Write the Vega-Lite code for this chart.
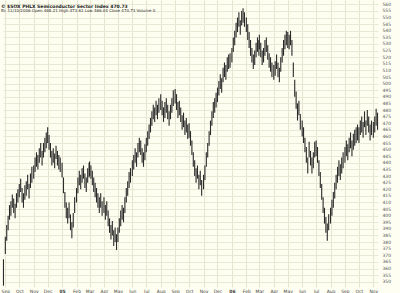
{
"$schema": "https://vega.github.io/schema/vega-lite/v6.json",
"width": 375, "height": 287,
"autosize": {"type": "none"},
"padding": {"left": 3, "top": 0, "right": 22, "bottom": 6},
"background": "#FEFEF2",
"config": {"view": {"fill": "#FEFEF0", "stroke": null}, "font": "DejaVu Sans"},
"title": {"text": "© $SOX PHLX Semiconductor Sector Index   470.73", "subtitle": "Bi: 11/10/2006  Open 468.21  High 473.61  Low 466.04  Close 470.73  Volume 0", "anchor": "start", "frame": "group", "orient": "top", "offset": -13, "dx": -2, "fontSize": 4.5, "fontWeight": "bold", "color": "#222", "subtitleFontSize": 4, "subtitleColor": "#333", "subtitlePadding": 1},
"data": {"values": [
{"d":"2004-08-28","h":367,"l":347},
{"d":"2004-09-01","h":384,"l":371},{"d":"2004-09-04","h":393,"l":381},{"d":"2004-09-07","h":400,"l":389},{"d":"2004-09-10","h":408,"l":397},{"d":"2004-09-13","h":411,"l":400},{"d":"2004-09-16","h":416,"l":406},{"d":"2004-09-19","h":413,"l":402},{"d":"2004-09-22","h":409,"l":398},{"d":"2004-09-25","h":417,"l":406},{"d":"2004-09-28","h":420,"l":410},
{"d":"2004-10-01","h":424,"l":414},{"d":"2004-10-04","h":428,"l":418},{"d":"2004-10-07","h":421,"l":410},{"d":"2004-10-10","h":417,"l":406},{"d":"2004-10-13","h":423,"l":412},{"d":"2004-10-16","h":426,"l":415},{"d":"2004-10-19","h":431,"l":420},{"d":"2004-10-22","h":424,"l":413},{"d":"2004-10-25","h":432,"l":421},{"d":"2004-10-28","h":437,"l":425},
{"d":"2004-11-01","h":438,"l":428},{"d":"2004-11-04","h":444,"l":433},{"d":"2004-11-07","h":448,"l":437},{"d":"2004-11-10","h":446,"l":435},{"d":"2004-11-13","h":451,"l":440},{"d":"2004-11-16","h":455,"l":444},{"d":"2004-11-19","h":449,"l":438},{"d":"2004-11-22","h":455,"l":444},{"d":"2004-11-25","h":459,"l":448},{"d":"2004-11-28","h":463,"l":451},
{"d":"2004-12-01","h":467,"l":455},{"d":"2004-12-04","h":461,"l":450},{"d":"2004-12-07","h":455,"l":444},{"d":"2004-12-10","h":449,"l":438},{"d":"2004-12-13","h":451,"l":440},{"d":"2004-12-16","h":447,"l":436},{"d":"2004-12-19","h":453,"l":443},{"d":"2004-12-22","h":449,"l":438},{"d":"2004-12-25","h":446,"l":435},{"d":"2004-12-28","h":444,"l":433},
{"d":"2005-01-01","h":440,"l":429},{"d":"2005-01-04","h":429,"l":417},{"d":"2005-01-07","h":418,"l":406},{"d":"2005-01-10","h":410,"l":398},{"d":"2005-01-13","h":406,"l":394},{"d":"2005-01-16","h":410,"l":398},{"d":"2005-01-19","h":401,"l":389},{"d":"2005-01-22","h":395,"l":383},{"d":"2005-01-25","h":402,"l":391},{"d":"2005-01-28","h":414,"l":402},
{"d":"2005-02-01","h":421,"l":410},{"d":"2005-02-04","h":429,"l":417},{"d":"2005-02-07","h":434,"l":423},{"d":"2005-02-10","h":431,"l":420},{"d":"2005-02-13","h":436,"l":425},{"d":"2005-02-16","h":438,"l":428},{"d":"2005-02-19","h":432,"l":421},{"d":"2005-02-22","h":429,"l":418},{"d":"2005-02-25","h":436,"l":425},{"d":"2005-02-28","h":440,"l":429},
{"d":"2005-03-01","h":441,"l":430},{"d":"2005-03-04","h":438,"l":428},{"d":"2005-03-07","h":434,"l":423},{"d":"2005-03-10","h":429,"l":418},{"d":"2005-03-13","h":425,"l":414},{"d":"2005-03-16","h":421,"l":410},{"d":"2005-03-19","h":417,"l":406},{"d":"2005-03-22","h":414,"l":402},{"d":"2005-03-25","h":417,"l":406},{"d":"2005-03-28","h":411,"l":400},
{"d":"2005-04-01","h":414,"l":402},{"d":"2005-04-04","h":408,"l":397},{"d":"2005-04-07","h":411,"l":400},{"d":"2005-04-10","h":404,"l":392},{"d":"2005-04-13","h":398,"l":387},{"d":"2005-04-16","h":393,"l":382},{"d":"2005-04-19","h":396,"l":385},{"d":"2005-04-22","h":389,"l":377},{"d":"2005-04-25","h":391,"l":380},{"d":"2005-04-28","h":386,"l":374},
{"d":"2005-05-01","h":391,"l":380},{"d":"2005-05-04","h":398,"l":387},{"d":"2005-05-07","h":404,"l":392},{"d":"2005-05-10","h":408,"l":397},{"d":"2005-05-13","h":406,"l":395},{"d":"2005-05-16","h":414,"l":402},{"d":"2005-05-19","h":421,"l":410},{"d":"2005-05-22","h":426,"l":415},{"d":"2005-05-25","h":433,"l":421},{"d":"2005-05-28","h":436,"l":425},
{"d":"2005-06-01","h":442,"l":430},{"d":"2005-06-04","h":446,"l":435},{"d":"2005-06-07","h":451,"l":440},{"d":"2005-06-10","h":448,"l":437},{"d":"2005-06-13","h":455,"l":444},{"d":"2005-06-16","h":459,"l":448},{"d":"2005-06-19","h":457,"l":446},{"d":"2005-06-22","h":451,"l":440},{"d":"2005-06-25","h":448,"l":437},{"d":"2005-06-28","h":454,"l":442},
{"d":"2005-07-01","h":459,"l":448},{"d":"2005-07-04","h":464,"l":453},{"d":"2005-07-07","h":469,"l":458},{"d":"2005-07-10","h":474,"l":463},{"d":"2005-07-13","h":479,"l":468},{"d":"2005-07-16","h":484,"l":473},{"d":"2005-07-19","h":482,"l":471},{"d":"2005-07-22","h":487,"l":476},{"d":"2005-07-25","h":484,"l":473},{"d":"2005-07-28","h":489,"l":478},
{"d":"2005-08-01","h":492,"l":480},{"d":"2005-08-04","h":487,"l":476},{"d":"2005-08-07","h":482,"l":471},{"d":"2005-08-10","h":486,"l":474},{"d":"2005-08-13","h":489,"l":478},{"d":"2005-08-16","h":484,"l":473},{"d":"2005-08-19","h":479,"l":468},{"d":"2005-08-22","h":484,"l":473},{"d":"2005-08-25","h":489,"l":478},{"d":"2005-08-28","h":495,"l":483},
{"d":"2005-09-01","h":496,"l":485},{"d":"2005-09-04","h":492,"l":480},{"d":"2005-09-07","h":486,"l":474},{"d":"2005-09-10","h":487,"l":476},{"d":"2005-09-13","h":482,"l":471},{"d":"2005-09-16","h":476,"l":465},{"d":"2005-09-19","h":478,"l":467},{"d":"2005-09-22","h":472,"l":461},{"d":"2005-09-25","h":474,"l":463},{"d":"2005-09-28","h":469,"l":458},
{"d":"2005-10-01","h":470,"l":459},{"d":"2005-10-04","h":464,"l":453},{"d":"2005-10-07","h":457,"l":446},{"d":"2005-10-10","h":448,"l":437},{"d":"2005-10-13","h":442,"l":430},{"d":"2005-10-16","h":436,"l":425},{"d":"2005-10-19","h":438,"l":428},{"d":"2005-10-22","h":431,"l":420},{"d":"2005-10-25","h":434,"l":423},{"d":"2005-10-28","h":427,"l":415},
{"d":"2005-11-01","h":431,"l":420},{"d":"2005-11-04","h":438,"l":427},{"d":"2005-11-07","h":448,"l":437},{"d":"2005-11-10","h":455,"l":444},{"d":"2005-11-13","h":464,"l":453},{"d":"2005-11-16","h":472,"l":461},{"d":"2005-11-19","h":479,"l":468},{"d":"2005-11-22","h":486,"l":474},{"d":"2005-11-25","h":489,"l":478},{"d":"2005-11-28","h":493,"l":482},
{"d":"2005-12-01","h":497,"l":486},{"d":"2005-12-04","h":502,"l":491},{"d":"2005-12-07","h":507,"l":496},{"d":"2005-12-10","h":504,"l":493},{"d":"2005-12-13","h":512,"l":501},{"d":"2005-12-16","h":516,"l":505},{"d":"2005-12-19","h":514,"l":503},{"d":"2005-12-22","h":520,"l":509},{"d":"2005-12-25","h":522,"l":511},{"d":"2005-12-28","h":523,"l":512},
{"d":"2006-01-01","h":527,"l":516},{"d":"2006-01-04","h":535,"l":524},{"d":"2006-01-07","h":540,"l":529},{"d":"2006-01-10","h":546,"l":535},{"d":"2006-01-13","h":550,"l":539},{"d":"2006-01-16","h":554,"l":543},{"d":"2006-01-19","h":548,"l":537},{"d":"2006-01-22","h":555,"l":544},{"d":"2006-01-25","h":557,"l":546},{"d":"2006-01-28","h":554,"l":543},
{"d":"2006-02-01","h":550,"l":539},{"d":"2006-02-04","h":545,"l":533},{"d":"2006-02-07","h":539,"l":527},{"d":"2006-02-10","h":533,"l":521},{"d":"2006-02-13","h":527,"l":516},{"d":"2006-02-16","h":522,"l":511},{"d":"2006-02-19","h":525,"l":514},{"d":"2006-02-22","h":531,"l":520},{"d":"2006-02-25","h":535,"l":524},{"d":"2006-02-28","h":533,"l":521},
{"d":"2006-03-01","h":537,"l":526},{"d":"2006-03-04","h":531,"l":520},{"d":"2006-03-07","h":525,"l":514},{"d":"2006-03-10","h":527,"l":516},{"d":"2006-03-13","h":533,"l":521},{"d":"2006-03-16","h":535,"l":524},{"d":"2006-03-19","h":529,"l":518},{"d":"2006-03-22","h":523,"l":512},{"d":"2006-03-25","h":520,"l":509},{"d":"2006-03-28","h":516,"l":505},
{"d":"2006-04-01","h":514,"l":503},{"d":"2006-04-04","h":517,"l":506},{"d":"2006-04-07","h":522,"l":511},{"d":"2006-04-10","h":516,"l":505},{"d":"2006-04-13","h":512,"l":501},{"d":"2006-04-16","h":520,"l":509},{"d":"2006-04-19","h":527,"l":516},{"d":"2006-04-22","h":533,"l":521},{"d":"2006-04-25","h":537,"l":526},{"d":"2006-04-28","h":540,"l":529},
{"d":"2006-05-01","h":539,"l":527},{"d":"2006-05-04","h":537,"l":526},{"d":"2006-05-07","h":540,"l":529},{"d":"2006-05-10","h":533,"l":521},{"d":"2006-05-13","h":516,"l":505},{"d":"2006-05-16","h":503,"l":490},{"d":"2006-05-19","h":494,"l":481},{"d":"2006-05-22","h":485,"l":472},{"d":"2006-05-25","h":487,"l":476},{"d":"2006-05-28","h":477,"l":465},
{"d":"2006-06-01","h":472,"l":460},{"d":"2006-06-04","h":467,"l":455},{"d":"2006-06-07","h":459,"l":448},{"d":"2006-06-10","h":452,"l":440},{"d":"2006-06-13","h":444,"l":432},{"d":"2006-06-16","h":456,"l":444},{"d":"2006-06-19","h":449,"l":438},{"d":"2006-06-22","h":444,"l":432},{"d":"2006-06-25","h":448,"l":436},{"d":"2006-06-28","h":456,"l":444},
{"d":"2006-07-01","h":457,"l":445},{"d":"2006-07-04","h":452,"l":440},{"d":"2006-07-07","h":442,"l":430},{"d":"2006-07-10","h":433,"l":421},{"d":"2006-07-13","h":424,"l":412},{"d":"2006-07-16","h":414,"l":402},{"d":"2006-07-19","h":406,"l":394},{"d":"2006-07-22","h":399,"l":387},{"d":"2006-07-25","h":394,"l":381},{"d":"2006-07-28","h":401,"l":389},
{"d":"2006-08-01","h":406,"l":394},{"d":"2006-08-04","h":412,"l":400},{"d":"2006-08-07","h":418,"l":406},{"d":"2006-08-10","h":425,"l":413},{"d":"2006-08-13","h":431,"l":420},{"d":"2006-08-16","h":437,"l":425},{"d":"2006-08-19","h":442,"l":430},{"d":"2006-08-22","h":439,"l":427},{"d":"2006-08-25","h":444,"l":432},{"d":"2006-08-28","h":448,"l":436},
{"d":"2006-09-01","h":452,"l":440},{"d":"2006-09-04","h":457,"l":445},{"d":"2006-09-07","h":454,"l":442},{"d":"2006-09-10","h":459,"l":448},{"d":"2006-09-13","h":463,"l":451},{"d":"2006-09-16","h":457,"l":445},{"d":"2006-09-19","h":462,"l":450},{"d":"2006-09-22","h":465,"l":453},{"d":"2006-09-25","h":467,"l":455},{"d":"2006-09-28","h":469,"l":457},
{"d":"2006-10-01","h":467,"l":455},{"d":"2006-10-04","h":472,"l":461},{"d":"2006-10-07","h":475,"l":463},{"d":"2006-10-10","h":471,"l":459},{"d":"2006-10-13","h":479,"l":467},{"d":"2006-10-16","h":472,"l":461},{"d":"2006-10-19","h":480,"l":468},{"d":"2006-10-22","h":475,"l":463},{"d":"2006-10-25","h":469,"l":457},{"d":"2006-10-28","h":472,"l":461},
{"d":"2006-11-01","h":471,"l":459},{"d":"2006-11-04","h":475,"l":463},{"d":"2006-11-07","h":481,"l":468},{"d":"2006-11-10","h":478,"l":465}
]},
"mark": {"type": "rule", "strokeWidth": 1.1, "color": "#2a2a2a"},
"encoding": {
  "x": {"field": "d", "type": "temporal", "title": null,
    "scale": {"domain": [{"year": 2004, "month": 8, "date": 27}, {"year": 2006, "month": 11, "date": 11}]},
    "axis": {"tickCount": {"interval": "month", "step": 1}, "grid": true, "gridColor": "#E4E4D0", "gridWidth": 1, "ticks": false, "domain": false,
      "labelExpr": "month(datum.value) == 0 ? timeFormat(datum.value, '%y') : timeFormat(datum.value, '%b')",
      "labelFontWeight": {"condition": {"test": "month(datum.value) == 0", "value": "bold"}, "value": "normal"},
      "labelFontSize": 4.5, "labelColor": "#444", "labelPadding": 1, "labelOverlap": false, "labelFlush": false}},
  "y": {"field": "l", "type": "quantitative", "title": null,
    "scale": {"domain": [346, 563.3], "nice": false, "zero": false},
    "axis": {"orient": "right", "values": [350,355,360,365,370,375,380,385,390,395,400,405,410,415,420,425,430,435,440,445,450,455,460,465,470,475,480,485,490,495,500,505,510,515,520,525,530,535,540,545,550,555,560],
      "grid": true, "gridColor": "#E8E8D6", "ticks": false, "domain": false, "labelFontSize": 4.5, "labelColor": "#555", "labelPadding": 4, "labelOverlap": false, "labelFlush": false}},
  "y2": {"field": "h"}
}
}
